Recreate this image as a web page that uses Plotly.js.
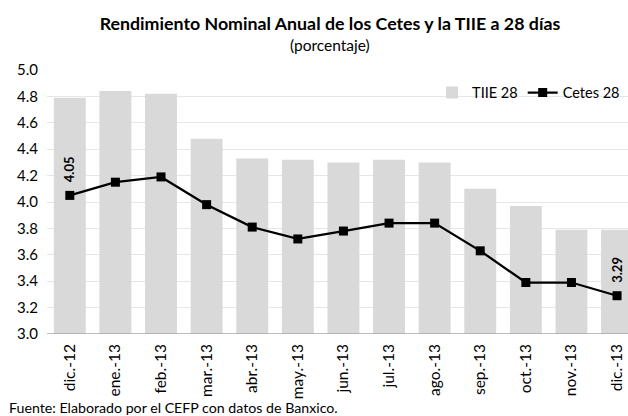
<!DOCTYPE html>
<html>
<head>
<meta charset="utf-8">
<script src="https://cdn.plot.ly/plotly-3.0.1.min.js"></script>
<style>html,body{margin:0;padding:0;background:#fff;}#chart{width:628px;height:416px;}</style>
</head>
<body>
<div id="chart"></div>
<script>
const categories = ["dic.-12","ene.-13","feb.-13","mar.-13","abr.-13","may.-13","jun.-13","jul.-13","ago.-13","sep.-13","oct.-13","nov.-13","dic.-13"];
const tiie28 = [4.79, 4.84, 4.82, 4.48, 4.33, 4.32, 4.30, 4.32, 4.30, 4.10, 3.97, 3.79, 3.79];
const cetes28 = [4.05, 4.15, 4.19, 3.98, 3.81, 3.72, 3.78, 3.84, 3.84, 3.63, 3.39, 3.39, 3.29];
const labeledIdx = [0, 12];

const FONT = "Lato, 'Open Sans', sans-serif";

const traces = [
  {
    type: "bar", name: "TIIE 28", x: categories, y: tiie28,
    marker: {color: "#d9d9d9"}, hoverinfo: "skip"
  },
  {
    type: "scatter", mode: "lines+markers", name: "Cetes 28", x: categories, y: cetes28,
    line: {color: "#000000", width: 2.25},
    marker: {symbol: "square", size: 9, color: "#000000"}, hoverinfo: "skip"
  }
];

const annotations = labeledIdx.map(i => ({
  x: categories[i], y: cetes28[i], xref: "x", yref: "y",
  text: "<b>" + cetes28[i].toFixed(2) + "</b>", showarrow: false,
  textangle: -90, yshift: 26, font: {family: FONT, size: 13, color: "#000"}
}));
annotations.push({
  xref: "paper", yref: "paper", x: -0.069, y: -0.28, xanchor: "left", yanchor: "middle",
  text: "Fuente: Elaborado por el CEFP con datos de Banxico.", showarrow: false,
  font: {family: FONT, size: 14.2, color: "#000"}
});
annotations.push({
  xref: "paper", yref: "paper", x: 0.487, y: 1.093, xanchor: "center", yanchor: "middle",
  text: "(porcentaje)", showarrow: false,
  font: {family: FONT, size: 15.5, color: "#000"}
});

const layout = {
  width: 628, height: 416,
  margin: {l: 47, r: 0, t: 70, b: 82},
  paper_bgcolor: "#fff", plot_bgcolor: "#fff",
  font: {family: FONT, size: 12, color: "#000"},
  title: {text: "<b>Rendimiento Nominal Anual de los Cetes y la TIIE a 28 días</b>",
    x: 0.487, xanchor: "center", xref: "paper", y: 0.943, yanchor: "middle",
    font: {family: FONT, size: 17.8, color: "#000"}},
  bargap: 0.3,
  showlegend: true,
  legend: {orientation: "h", x: 0.995, xanchor: "right", y: 0.975, yanchor: "top",
    font: {family: FONT, size: 14.5, color: "#000"}, bgcolor: "rgba(0,0,0,0)", traceorder: "normal"},
  xaxis: {
    type: "category", range: [-0.5, 12.24], tickangle: -90,
    showgrid: false, showline: false, ticks: "", ticklabelstandoff: 6,
    tickfont: {family: FONT, size: 15.5, color: "#000"}, fixedrange: true
  },
  yaxis: {
    range: [3.0, 5.0], dtick: 0.2, tick0: 3.0, tickformat: ".1f",
    showgrid: true, gridcolor: "#e6e6e6", gridwidth: 1,
    zeroline: false, showline: false, ticks: "", ticklabelstandoff: 8,
    tickfont: {family: FONT, size: 15, color: "#000"}, fixedrange: true
  },
  shapes: [{type: "line", xref: "paper", yref: "y", x0: 0, x1: 1, y0: 3.0, y1: 3.0,
    line: {color: "#a6a6a6", width: 1.5}}],
  annotations: annotations
};

Plotly.newPlot("chart", traces, layout, {displayModeBar: false, staticPlot: true});
</script>
</body>
</html>
